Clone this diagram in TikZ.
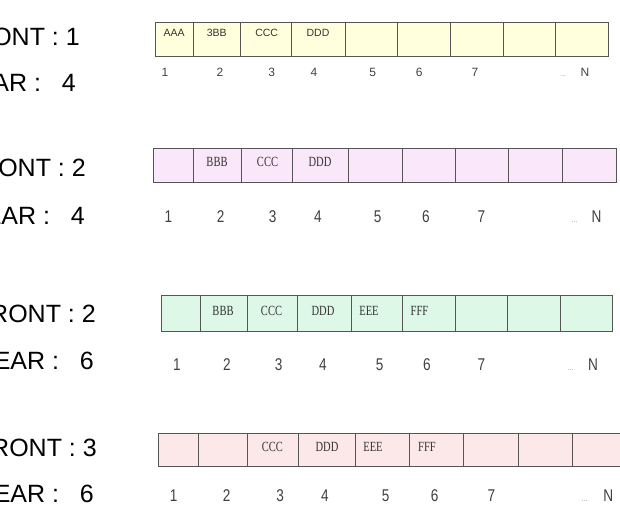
\documentclass[tikz,border=0pt]{standalone}
\usepackage{fontspec}
\usepackage{graphicx}
\setmainfont{Liberation Sans}
\newfontfamily\serfont{Liberation Serif}
\newcommand{\squeeze}[1]{\scalebox{0.75}[1]{#1}}
\newcommand{\thin}[1]{\scalebox{0.8}[1]{#1}}
\definecolor{rowA}{HTML}{FFFFDD}
\definecolor{rowB}{HTML}{FAE8FA}
\definecolor{rowC}{HTML}{DDF8E6}
\definecolor{rowD}{HTML}{FCE8E8}
\definecolor{edge}{HTML}{555555}
\tikzset{
  grid/.style={draw=edge, line width=0.8pt},
  headtxt/.style={font=\fontsize{25}{25}\selectfont, inner sep=0pt, anchor=base east},
  boxtxt/.style={font=\fontsize{10.5}{10.5}\selectfont, text=black!80, inner sep=0pt},
  sertxt/.style={font=\serfont\fontsize{14}{14}\selectfont, text=black!80, inner sep=0pt},
  idxA/.style={font=\fontsize{12}{12}\selectfont, text=black!75, inner sep=0pt, anchor=base},
  idx/.style={font=\fontsize{17}{17}\selectfont, text=black!75, inner sep=0pt, anchor=base},
  dots/.style={font=\fontsize{7}{7}\selectfont, text=black!45, inner sep=0pt, anchor=base},
}

\begin{document}
\begin{tikzpicture}[x=1pt,y=-1pt]
    \useasboundingbox (0,0) rectangle (620,517);

    %% row 1
    \fill[rowA] (155,22.7) rectangle (608.3,56);
    \foreach \x in {193.3,240,291,345.7,397.7,450.3,503.3,555.7}
        \draw[grid] (\x,22.7) -- (\x,56);
    \draw[grid] (155,22.7) rectangle (608.3,56);
    \node[headtxt] (f1) at (80,45.7) {FRONT : 1};
    \node[headtxt] (r1) at (76,91) {REAR :~~~4};
    \node[boxtxt] (a1) at (174.2,32.7) {AAA};
    \node[boxtxt] (b1) at (216.7,32.7) {3BB};
    \node[boxtxt] (c1) at (266.7,32.7) {CCC};
    \node[boxtxt] (d1) at (318,32.7) {DDD};
    \foreach \x/\n in {165/1,220/2,271.7/3,314/4,372.7/5,419.3/6,475/7}
        \node[idxA] (i1-\n) at (\x,76) {\n};
    \node[dots] (e1) at (563,76) {...};
    \node[idxA] (N1) at (585,76) {N};

    %% row 2
    \fill[rowB] (153.8,148.3) rectangle (616.2,182.6);
    \foreach \x in {193.4,241.3,292,348.4,402.2,455.7,508.5,562.4}
        \draw[grid] (\x,148.3) -- (\x,182.6);
    \draw[grid] (153.8,148.3) rectangle (616.2,182.6);
    \node[headtxt] (f2) at (86,176.6) {FRONT : 2};
    \node[headtxt] (r2) at (85,224) {REAR :~~~4};
    \node[sertxt] (b2) at (217,162.3) {\squeeze{BBB}};
    \node[sertxt] (c2) at (267.5,162.3) {\squeeze{CCC}};
    \node[sertxt] (d2) at (320,162.3) {\squeeze{DDD}};
    \foreach \x/\n in {168.4/1,220.7/2,272.6/3,318/4,377.7/5,426/6,481.5/7}
        \node[idx] (i2-\n) at (\x,222) {\thin{\n}};
    \node[dots] (e2) at (574.6,222) {...};
    \node[idx] (N2) at (596.4,222) {\thin{N}};

    %% row 3
    \fill[rowC] (161.7,295.5) rectangle (612.3,331.6);
    \foreach \x in {200.1,246.9,297.2,351.6,402.8,455,507.3,560}
        \draw[grid] (\x,295.5) -- (\x,331.6);
    \draw[grid] (161.7,295.5) rectangle (612.3,331.6);
    \node[headtxt] (f3) at (96,322) {FRONT : 2};
    \node[headtxt] (r3) at (94,369) {REAR :~~~6};
    \node[sertxt] (b3) at (223,310.5) {\squeeze{BBB}};
    \node[sertxt] (c3) at (271.5,310.5) {\squeeze{CCC}};
    \node[sertxt] (d3) at (323,310.5) {\squeeze{DDD}};
    \node[sertxt] (e3) at (369,310.5) {\squeeze{EEE}};
    \node[sertxt] (g3) at (419.5,310.5) {\squeeze{FFF}};
    \foreach \x/\n in {177/1,227/2,278.6/3,323/4,379.7/5,426.8/6,481.5/7}
        \node[idx] (i3-\n) at (\x,370) {\thin{\n}};
    \node[dots] (p3) at (570.7,370) {...};
    \node[idx] (N3) at (593,370) {\thin{N}};

    %% row 4
    \fill[rowD] (158.5,433.3) rectangle (626,466);
    \foreach \x in {198.2,246.9,298.8,355.3,409.2,463.5,518,572.7}
        \draw[grid] (\x,433.3) -- (\x,466);
    \draw[grid] (158.5,433.3) rectangle (626,466);
    \node[headtxt] (f4) at (97,456.6) {FRONT : 3};
    \node[headtxt] (r4) at (94,502) {REAR :~~~6};
    \node[sertxt] (c4) at (272.3,446.7) {\squeeze{CCC}};
    \node[sertxt] (d4) at (327,446.7) {\squeeze{DDD}};
    \node[sertxt] (e4) at (373,446.7) {\squeeze{EEE}};
    \node[sertxt] (g4) at (427,446.7) {\squeeze{FFF}};
    \foreach \x/\n in {173.6/1,226.7/2,280.2/3,325/4,385.6/5,434.7/6,491.4/7}
        \node[idx] (i4-\n) at (\x,501) {\thin{\n}};
    \node[dots] (p4) at (584.6,501) {...};
    \node[idx] (N4) at (608.3,501) {\thin{N}};
\end{tikzpicture}
\end{document}
